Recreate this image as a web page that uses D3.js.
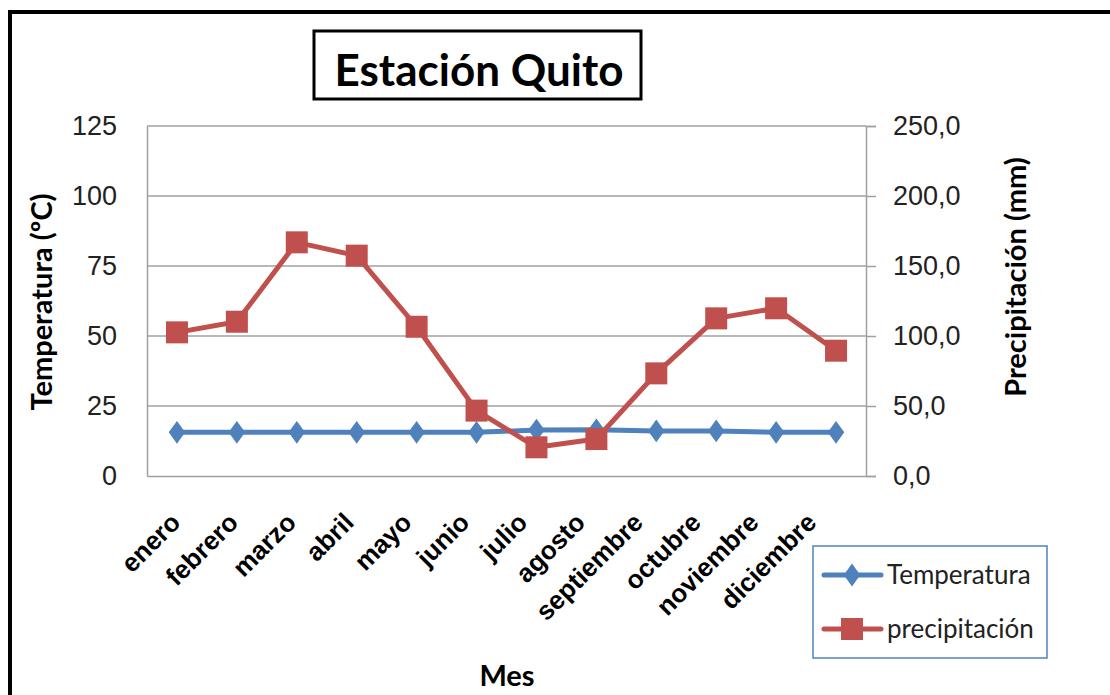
<!DOCTYPE html>
<html>
<head>
<meta charset="utf-8">
<script src="https://cdn.jsdelivr.net/npm/d3@7"></script>
<style>
  html, body { margin: 0; padding: 0; background: #fff; }
  svg { display: block; font-family: Lato, "Open Sans", sans-serif; }
</style>
</head>
<body>
<svg id="chart" width="1110" height="695"></svg>
<script>
// chart data
var meses = ["enero", "febrero", "marzo", "abril", "mayo", "junio", "julio",
             "agosto", "septiembre", "octubre", "noviembre", "diciembre"];
var temperatura = [15.6, 15.6, 15.6, 15.6, 15.6, 15.6, 16.4, 16.5, 16.1, 16.1, 15.6, 15.6];
var precipitacion = [102.6, 110.2, 166.9, 157.4, 106.6, 46.7, 20.5, 26.4, 73.3, 112.6, 119.8, 89.5];
var ticksTemp = [0, 25, 50, 75, 100, 125];
var ticksPrec = [0, 50, 100, 150, 200, 250];

var BLUE = "#4f81bd", RED = "#c0504d", GRID = "#a0a0a0";

var svg = d3.select("#chart");
var pLeft = 147, pRight = 866, pTop = 126, pBottom = 476;

var x = d3.scaleBand().domain(meses).range([pLeft, pRight]).padding(0);
// the rotated month labels sit a bit tighter than the bands (as in the source)
var xLabel = d3.scalePoint().domain(meses).range([181, 817]);
var yT = d3.scaleLinear().domain([0, 125]).range([pBottom, pTop]);
var yP = d3.scaleLinear().domain([0, 250]).range([pBottom, pTop]);
var cx = function (d) { return x(d) + x.bandwidth() / 2; };

// outer frame (runs off the right / bottom edge like the source)
svg.append("rect")
    .attr("x", 10).attr("y", 12)
    .attr("width", 1120).attr("height", 700)
    .attr("fill", "none").attr("stroke", "#000").attr("stroke-width", 4);

// title box
svg.append("rect")
    .attr("x", 314).attr("y", 31)
    .attr("width", 327).attr("height", 68)
    .attr("fill", "#fff").attr("stroke", "#000").attr("stroke-width", 3);
svg.append("text")
    .attr("x", 479).attr("y", 86)
    .attr("text-anchor", "middle")
    .style("font-size", "44px").style("font-weight", "bold")
    .text("Estación Quito");

// gridlines
svg.append("g").selectAll("line")
    .data(ticksTemp.slice(1))
  .enter().append("line")
    .attr("x1", pLeft).attr("x2", pRight)
    .attr("y1", function (d) { return yT(d); })
    .attr("y2", function (d) { return yT(d); })
    .attr("stroke", GRID).attr("stroke-width", 1.5);

// left axis
var axL = svg.append("g")
    .attr("transform", "translate(" + pLeft + ",0)")
    .call(d3.axisLeft(yT).tickValues(ticksTemp).tickSize(0).tickPadding(30));
axL.select(".domain").attr("stroke", GRID).attr("stroke-width", 1.5);
axL.selectAll("text").style("font-size", "27px").attr("fill", "#222");

// right axis
var fmt = function (d) { return d3.format(".1f")(d).replace(".", ","); };
var axR = svg.append("g")
    .attr("transform", "translate(" + pRight + ",0)")
    .call(d3.axisRight(yP).tickValues(ticksPrec).tickSize(10).tickPadding(17).tickFormat(fmt));
axR.select(".domain").attr("stroke", GRID).attr("stroke-width", 1.5);
axR.selectAll(".tick line").attr("stroke", GRID).attr("stroke-width", 1.5);
axR.selectAll("text").style("font-size", "27px").attr("fill", "#222");

// bottom axis
var axB = svg.append("g")
    .attr("transform", "translate(0," + pBottom + ")")
    .call(d3.axisBottom(x).tickSize(0).tickPadding(0));
axB.select(".domain").attr("stroke", GRID).attr("stroke-width", 1.5);
axB.selectAll(".tick")
    .attr("transform", function (d) { return "translate(" + xLabel(d) + ",0)"; });
axB.selectAll("text")
    .style("font-size", "26px").style("font-weight", "bold").attr("fill", "#000")
    .attr("text-anchor", "end")
    .attr("dy", null).attr("y", 0)
    .attr("transform", "translate(1,48) rotate(-45)");

// axis titles
svg.append("text")
    .attr("transform", "translate(52,302) rotate(-90)")
    .attr("text-anchor", "middle")
    .style("font-size", "29px").style("font-weight", "bold")
    .text("Temperatura (ºC)");
svg.append("text")
    .attr("transform", "translate(1026,277) rotate(-90)")
    .attr("text-anchor", "middle")
    .style("font-size", "29px").style("font-weight", "bold")
    .text("Precipitación (mm)");
svg.append("text")
    .attr("x", 507).attr("y", 686)
    .attr("text-anchor", "middle")
    .style("font-size", "29px").style("font-weight", "bold")
    .text("Mes");

// series
var lineT = d3.line().x(function (d, i) { return cx(meses[i]); }).y(function (d) { return yT(d); });
var lineP = d3.line().x(function (d, i) { return cx(meses[i]); }).y(function (d) { return yP(d); });

svg.append("path").datum(temperatura)
    .attr("d", lineT).attr("fill", "none")
    .attr("stroke", BLUE).attr("stroke-width", 5).attr("stroke-linejoin", "round");
svg.append("g").selectAll("path")
    .data(temperatura)
  .enter().append("path")
    .attr("d", d3.symbol(d3.symbolDiamond, 150))
    .attr("transform", function (d, i) { return "translate(" + cx(meses[i]) + "," + yT(d) + ") scale(1.25,1)"; })
    .attr("fill", BLUE);

svg.append("path").datum(precipitacion)
    .attr("d", lineP).attr("fill", "none")
    .attr("stroke", RED).attr("stroke-width", 5).attr("stroke-linejoin", "round");
svg.append("g").selectAll("rect")
    .data(precipitacion)
  .enter().append("rect")
    .attr("x", function (d, i) { return cx(meses[i]) - 11; })
    .attr("y", function (d) { return yP(d) - 11; })
    .attr("width", 22).attr("height", 22)
    .attr("fill", RED);

// legend
var leg = svg.append("g");
leg.append("rect")
    .attr("x", 813).attr("y", 546).attr("width", 234).attr("height", 112)
    .attr("fill", "#fff").attr("stroke", BLUE).attr("stroke-width", 1.5);
var items = [
    { name: "Temperatura", color: BLUE, shape: "diamond", y: 575 },
    { name: "precipitación", color: RED, shape: "square", y: 629 }
];
items.forEach(function (it) {
    leg.append("line")
        .attr("x1", 824).attr("x2", 881).attr("y1", it.y).attr("y2", it.y)
        .attr("stroke", it.color).attr("stroke-width", 5).attr("stroke-linecap", "round");
    if (it.shape === "diamond") {
        leg.append("path")
            .attr("d", d3.symbol(d3.symbolDiamond, 150))
            .attr("transform", "translate(852," + it.y + ") scale(1.25,1)")
            .attr("fill", it.color);
    } else {
        leg.append("rect")
            .attr("x", 841).attr("y", it.y - 11).attr("width", 22).attr("height", 22)
            .attr("fill", it.color);
    }
    leg.append("text")
        .attr("x", 887).attr("y", it.y + 9)
        .style("font-size", "26px").attr("fill", "#222")
        .text(it.name);
});
</script>
</body>
</html>
